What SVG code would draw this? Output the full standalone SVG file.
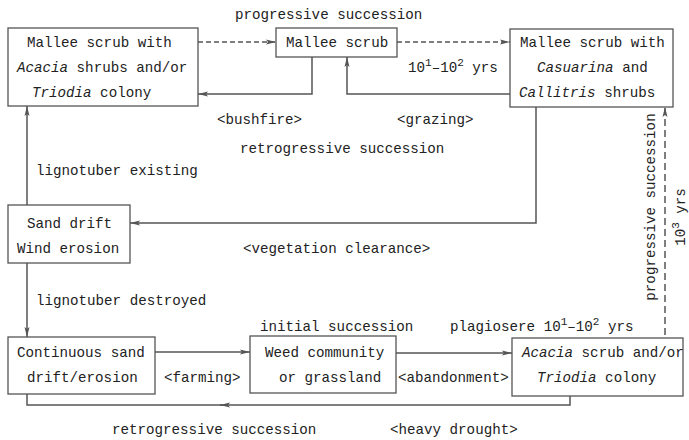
<svg xmlns="http://www.w3.org/2000/svg" width="689" height="440" viewBox="0 0 689 440">
<style>
text{font-family:"Liberation Mono","Courier New",monospace;font-size:14.2px;fill:#222}
.i{font-style:italic}
.box{fill:#fff;stroke:#555;stroke-width:1.3}
.c{fill:none;stroke:#555;stroke-width:1.5}
.d{stroke-dasharray:5,3}
.sup{font-size:11px}
</style>
<defs>
<marker id="ah" viewBox="0 0 10 6" refX="10" refY="3" markerWidth="10" markerHeight="6" markerUnits="userSpaceOnUse" orient="auto">
<path d="M0,0.5 L10,3 L0,5.5 L2,3 z" fill="#555"/>
</marker>
</defs>
<rect width="689" height="440" fill="#fff"/>
<g id="connectors">
<path class="c d" d="M198,42 H276" marker-end="url(#ah)"/>
<path class="c d" d="M397,42 H510" marker-end="url(#ah)"/>
<path class="c" d="M312,57 V94 H198" marker-end="url(#ah)"/>
<path class="c" d="M510,94 H347 V57" marker-end="url(#ah)"/>
<path class="c" d="M536,107 V223 H130" marker-end="url(#ah)"/>
<path class="c" d="M27,205 V106" marker-end="url(#ah)"/>
<path class="c" d="M27,263 V337" marker-end="url(#ah)"/>
<path class="c" d="M155,352 H250" marker-end="url(#ah)"/>
<path class="c" d="M396,353 H512" marker-end="url(#ah)"/>
<path class="c" d="M570,396 V405 H220" marker-end="url(#ah)"/>
<path class="c" d="M222,405 H27 V394"/>
<path class="c d" d="M665,335 V107" marker-end="url(#ah)" style="stroke-dasharray:7,4"/>
</g>
<g id="n1">
<rect class="box" x="8" y="28" width="190" height="78"/>
<text x="27" y="47">Mallee scrub with</text>
<text x="17" y="72"><tspan class="i">Acacia</tspan> shrubs and/or</text>
<text x="32" y="97"><tspan class="i">Triodia</tspan> colony</text>
</g>
<g id="n2">
<rect class="box" x="276" y="28" width="121" height="29"/>
<text x="286" y="47">Mallee scrub</text>
</g>
<g id="n3">
<rect class="box" x="510" y="29" width="163" height="78"/>
<text x="520" y="47">Mallee scrub with</text>
<text x="537" y="72"><tspan class="i">Casuarina</tspan> and</text>
<text x="519" y="97"><tspan class="i">Callitris</tspan> shrubs</text>
</g>
<g id="n4">
<rect class="box" x="8" y="205" width="122" height="58"/>
<text x="27" y="228">Sand drift</text>
<text x="17" y="253">Wind erosion</text>
</g>
<g id="n5">
<rect class="box" x="8" y="337" width="147" height="57"/>
<text x="17" y="357">Continuous sand</text>
<text x="27" y="382">drift/erosion</text>
</g>
<g id="n6">
<rect class="box" x="250" y="336" width="146" height="57"/>
<text x="265" y="357">Weed community</text>
<text x="279" y="382">or grassland</text>
</g>
<g id="n7">
<rect class="box" x="512" y="338" width="171" height="58"/>
<text x="522" y="357"><tspan class="i">Acacia</tspan> scrub and/or</text>
<text x="537" y="382"><tspan class="i">Triodia</tspan> colony</text>
</g>
<g id="labels">
<text x="235" y="19">progressive succession</text>
<text x="408" y="72">10<tspan class="sup" dy="-6">1</tspan><tspan dy="6">–10</tspan><tspan class="sup" dy="-6">2</tspan><tspan dy="6"> yrs</tspan></text>
<text x="217" y="124">&lt;bushfire&gt;</text>
<text x="397" y="124">&lt;grazing&gt;</text>
<text x="240" y="153">retrogressive succession</text>
<text x="36" y="175">lignotuber existing</text>
<text x="243" y="253">&lt;vegetation clearance&gt;</text>
<text x="36" y="305">lignotuber destroyed</text>
<text x="260" y="331">initial succession</text>
<text x="450" y="331">plagiosere 10<tspan class="sup" dy="-6">1</tspan><tspan dy="6">–10</tspan><tspan class="sup" dy="-6">2</tspan><tspan dy="6"> yrs</tspan></text>
<text x="164" y="382">&lt;farming&gt;</text>
<text x="398" y="382">&lt;abandonment&gt;</text>
<text x="112" y="434">retrogressive succession</text>
<text x="390" y="434">&lt;heavy drought&gt;</text>
<text transform="translate(655,207) rotate(-90)" text-anchor="middle">progressive succession</text>
<text transform="translate(685,217) rotate(-90)" text-anchor="middle">10<tspan class="sup" dy="-6">3</tspan><tspan dy="6"> yrs</tspan></text>
</g>
</svg>
